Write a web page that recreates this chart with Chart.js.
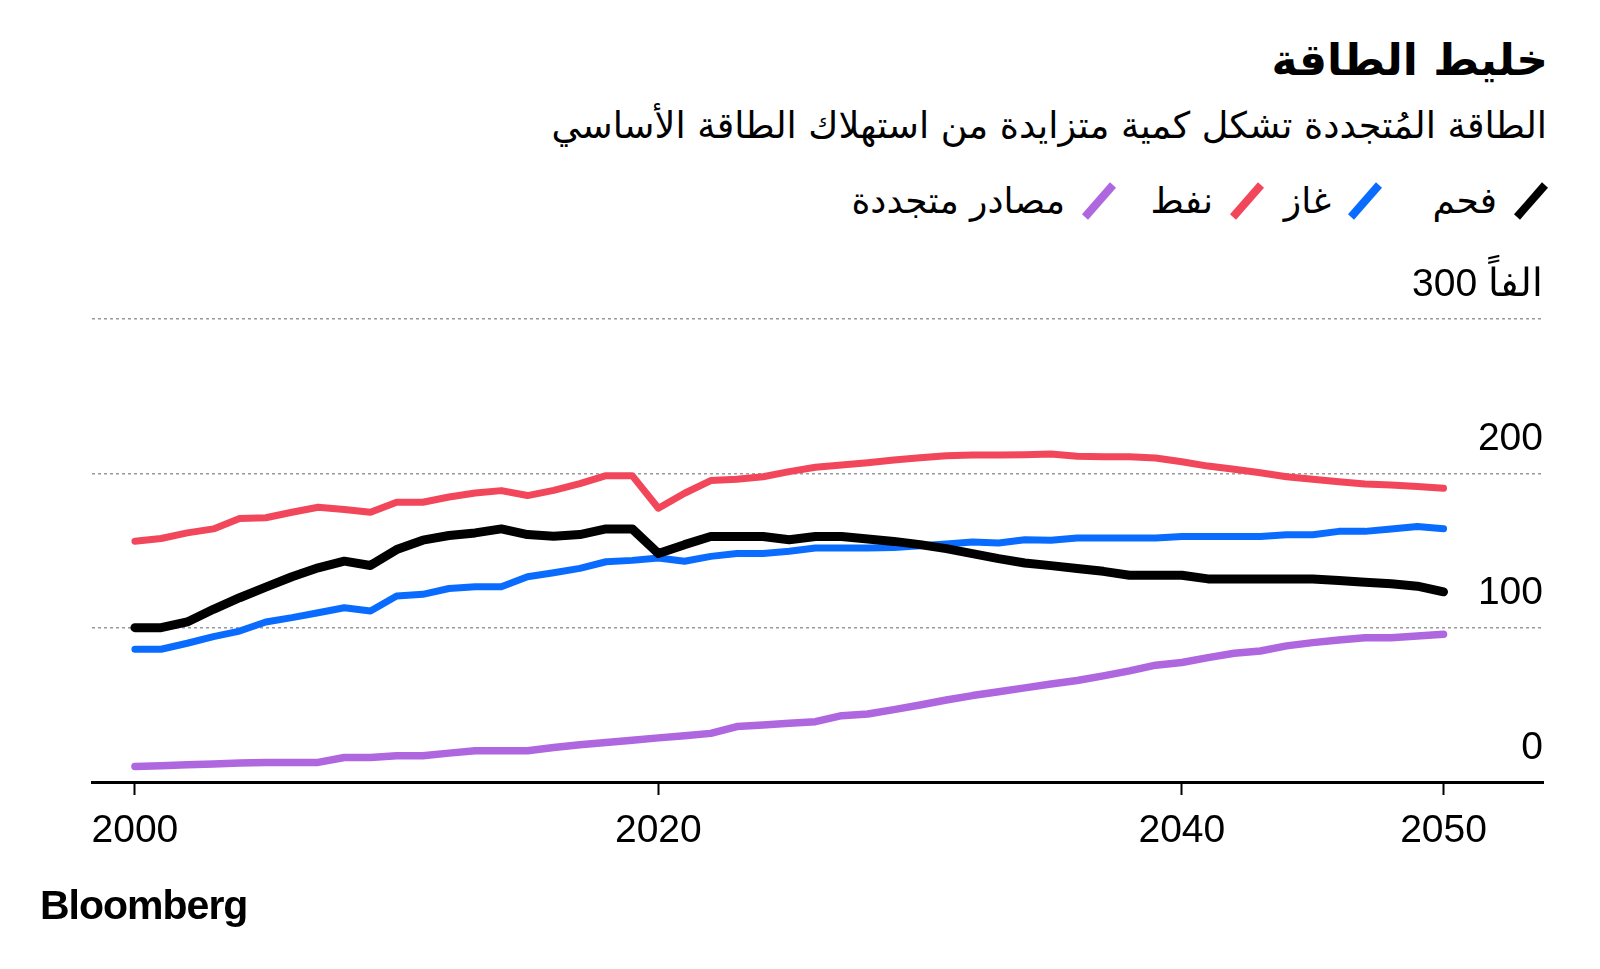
<!DOCTYPE html>
<html>
<head>
<meta charset="utf-8">
<script src="https://cdn.jsdelivr.net/npm/chart.js@4.4.1/dist/chart.umd.min.js"></script>
<style>
    body { margin: 0; width: 1600px; height: 969px; background: #fff; position: relative; overflow: hidden; font-family: "DejaVu Sans", sans-serif; color: #000; }
    #title { position: absolute; right: 52px; top: 34px; font-size: 44px; font-weight: bold; direction: rtl; white-space: nowrap; }
    #subtitle { position: absolute; right: 53px; top: 104px; font-size: 36.6px; direction: rtl; white-space: nowrap; }
    .item { position: absolute; top: 180px; display: flex; flex-direction: row; align-items: center; direction: rtl; font-size: 36px; white-space: nowrap; }
    .item svg { margin-left: 16px; }
    #logo { position: absolute; left: 40px; top: 882px; font-family: "Liberation Sans", Arial, sans-serif; font-weight: bold; font-size: 41px; letter-spacing: -1px; }
    canvas { position: absolute; left: 0; top: 0; }
</style>
</head>
<body>
<div id="title">خليط الطاقة</div>
<div id="subtitle">الطاقة المُتجددة تشكل كمية متزايدة من استهلاك الطاقة الأساسي</div>
<div id="legend"></div>
<canvas id="chart" width="1600" height="969"></canvas>
<div id="logo">Bloomberg</div>
<script>
// years on the x axis
const years = [2000, 2001, 2002, 2003, 2004, 2005, 2006, 2007, 2008, 2009,
    2010, 2011, 2012, 2013, 2014, 2015, 2016, 2017, 2018, 2019,
    2020, 2021, 2022, 2023, 2024, 2025, 2026, 2027, 2028, 2029,
    2030, 2031, 2032, 2033, 2034, 2035, 2036, 2037, 2038, 2039,
    2040, 2041, 2042, 2043, 2044, 2045, 2046, 2047, 2048, 2049, 2050];

const coal = [100, 100, 103.7, 111.9, 119.4, 126.3, 133.0, 138.8, 143.1, 140.3,
    150.6, 156.7, 159.7, 161.4, 164.0, 160.3, 159.3, 160.3, 164.0, 164.0,
    148.0, 153.8, 159.1, 159.1, 159.1, 157.0, 159.1, 159.1, 157.4, 155.9,
    153.8, 151.2, 148.0, 144.7, 141.9, 140.2, 138.4, 136.5, 134.0, 134.0,
    134.0, 131.6, 131.6, 131.6, 131.6, 131.6, 130.5, 129.5, 128.4, 126.9, 123.2];

const gas = [86.0, 86.0, 89.9, 94.2, 97.8, 103.7, 106.5, 109.7, 112.9, 110.8,
    120.5, 121.6, 125.4, 126.5, 126.5, 133.0, 135.6, 138.4, 142.7, 143.6,
    145.2, 143.0, 146.2, 148.0, 148.0, 149.5, 151.6, 151.6, 151.6, 152.0,
    153.1, 154.2, 155.5, 154.8, 157.0, 156.6, 158.1, 158.1, 158.1, 158.1,
    159.1, 159.1, 159.1, 159.1, 160.2, 160.2, 162.4, 162.4, 163.9, 165.6, 164.1];

const oil = [156.0, 157.8, 161.4, 164.0, 170.7, 171.2, 174.8, 178.0, 176.6, 174.8,
    181.3, 181.3, 184.7, 187.3, 188.8, 185.6, 189.0, 193.3, 198.5, 198.5,
    177.4, 187.1, 195.3, 196.1, 197.8, 201.1, 203.9, 205.4, 206.9, 208.6,
    210.1, 211.4, 211.8, 211.8, 212.0, 212.5, 211.0, 210.8, 210.8, 209.9,
    207.5, 204.7, 202.6, 200.4, 197.8, 196.1, 194.6, 193.1, 192.5, 191.4, 190.3];

const renewables = [10.1, 10.6, 11.2, 11.6, 12.3, 12.7, 12.7, 12.7, 15.9, 15.9,
    17.0, 17.0, 18.7, 20.3, 20.3, 20.3, 22.4, 24.1, 25.6, 27.0,
    28.6, 30.0, 31.5, 35.9, 37.0, 38.1, 39.1, 43.0, 44.1, 46.9,
    49.9, 53.1, 56.0, 58.5, 61.0, 63.5, 65.8, 68.8, 72.0, 75.7,
    77.4, 80.6, 83.4, 84.9, 88.2, 90.3, 92.0, 93.5, 93.5, 94.6, 95.7];

const seriesNames = ['فحم', 'غاز', 'نفط', 'مصادر متجددة'];
const seriesColors = ['#000000', '#0a6cff', '#f2475b', '#ae67de'];
const seriesWidths = [9, 7, 7, 7.5];
const xTicks = [2000, 2020, 2040, 2050];
const yTicks = [0, 100, 200, 300];
const yUnit = 'الفاً';

document.addEventListener('DOMContentLoaded', () => {
    load_legend();
    load_chart();
});

function load_legend() {
    const rights = [51, 217, 335, 483];
    const legend = document.querySelector('#legend');
    seriesNames.forEach((name, i) => {
        const item = document.createElement('div');
        item.className = 'item';
        item.style.right = rights[i] + 'px';
        item.innerHTML = '<svg width="36" height="38"><line x1="4" y1="35" x2="32" y2="3" stroke="' +
            seriesColors[i] + '" stroke-width="8"/></svg><span>' + name + '</span>';
        legend.appendChild(item);
    });
}

function load_chart() {
    const all = [coal, gas, oil, renewables];
    const datasets = all.map((vals, i) => ({
        label: seriesNames[i],
        data: years.map((y, j) => ({x: y, y: vals[j]})),
        borderColor: seriesColors[i],
        borderWidth: seriesWidths[i],
        borderCapStyle: 'round',
        borderJoinStyle: 'round',
        pointRadius: 0,
        tension: 0
    }));

    new Chart(document.querySelector('#chart'), {
        type: 'line',
        data: {datasets: datasets},
        options: {
            responsive: false,
            animation: false,
            layout: {padding: {left: 92, right: 57, top: 319, bottom: 127}},
            plugins: {legend: {display: false}, tooltip: {enabled: false}},
            scales: {
                x: {
                    type: 'linear',
                    min: 1998.36,
                    max: 2053.8,
                    afterBuildTicks: s => { s.ticks = xTicks.map(v => ({value: v})); },
                    afterFit: s => { s.height = 60; },
                    grid: {drawOnChartArea: false, drawTicks: true, tickLength: 13, tickWidth: 2, tickColor: '#000'},
                    border: {display: true, color: '#000', width: 3},
                    ticks: {
                        padding: 13,
                        color: '#000',
                        font: {family: 'Liberation Sans', size: 39},
                        callback: v => String(v)
                    }
                },
                y: {
                    position: 'right',
                    min: 0,
                    max: 300,
                    afterBuildTicks: s => { s.ticks = yTicks.map(v => ({value: v})); },
                    grid: {drawTicks: false, color: '#999999', lineWidth: 1.5},
                    border: {display: false, dash: [3, 3]},
                    ticks: {
                        mirror: true,
                        padding: 0,
                        labelOffset: -34,
                        color: '#000',
                        font: {family: 'Liberation Sans', size: 39},
                        callback: v => v === 300 ? yUnit + ' ' + v : String(v)
                    }
                }
            }
        }
    });
}
</script>
</body>
</html>
